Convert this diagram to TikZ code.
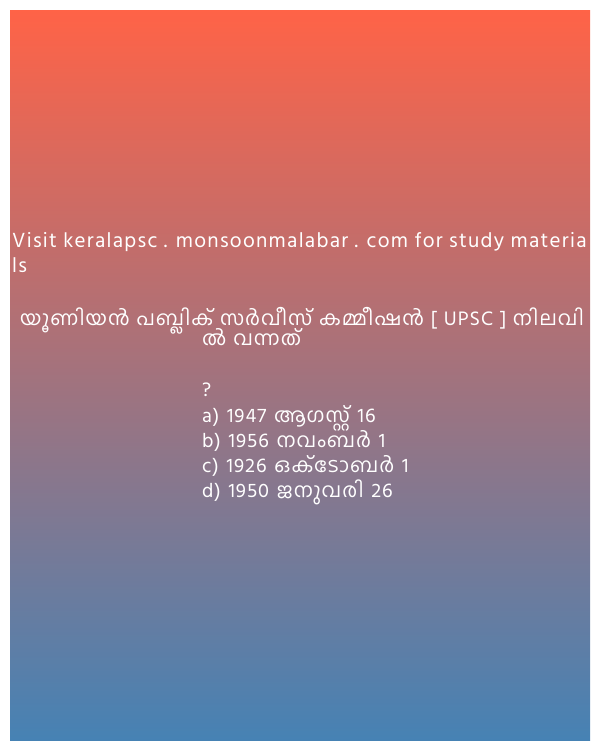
\documentclass[tikz,border=0pt]{standalone}
\usepackage{fontspec}
\newfontfamily\latinfont[LetterSpace=6.1]{Hind Kochi}
\newfontfamily\mlfont[Script=Malayalam, LetterSpace=5, WordSpace=1.4]{Hind Kochi}
\newfontfamily\mlhead[Script=Malayalam, LetterSpace=5, WordSpace=1.15]{Hind Kochi}
\definecolor{topred}{RGB}{255,99,71}
\definecolor{bottomblue}{RGB}{70,130,180}
\tikzset{
    webtext/.style={text=white, anchor=base west, inner sep=0pt, font=\latinfont\fontsize{21}{25}\selectfont},
    headtext/.style={text=white, anchor=base west, inner sep=0pt, font=\mlhead\fontsize{20}{25}\selectfont},
    quiztext/.style={text=white, anchor=base west, inner sep=0pt, font=\mlfont\fontsize{20}{25}\selectfont}
}
\begin{document}
\begin{tikzpicture}[x=1pt, y=-1pt]
        \useasboundingbox (0,0) rectangle (600,750);
        % Background
        \shade[top color=topred, bottom color=bottomblue] (10,10) rectangle (590,740);
        
        % Website line
        \node[webtext] (visit_line) at (12,247) {Visit keralapsc . monsoonmalabar . com for study materia};
        \node[webtext] (visit_rest) at (12,272) {ls};
        
        % Question
        \node[headtext] (question_one) at (20,325) {യൂണിയൻ പബ്ലിക് സർവീസ് കമ്മീഷൻ [ UPSC ] നിലവി};
        \node[headtext] (question_two) at (202,345) {ൽ വന്നത്};
        \node[quiztext] (question_mark) at (202,396) {?};
        
        % Options
        \node[quiztext] (option_a) at (202,422) {a) 1947 ആഗസ്റ്റ് 16};
        \node[quiztext] (option_b) at (202,447) {b) 1956 നവംബർ 1};
        \node[quiztext] (option_c) at (202,472) {c) 1926 ഒക്ടോബർ 1};
        \node[quiztext] (option_d) at (202,497) {d) 1950 ജനുവരി 26};
    \end{tikzpicture}
\end{document}
